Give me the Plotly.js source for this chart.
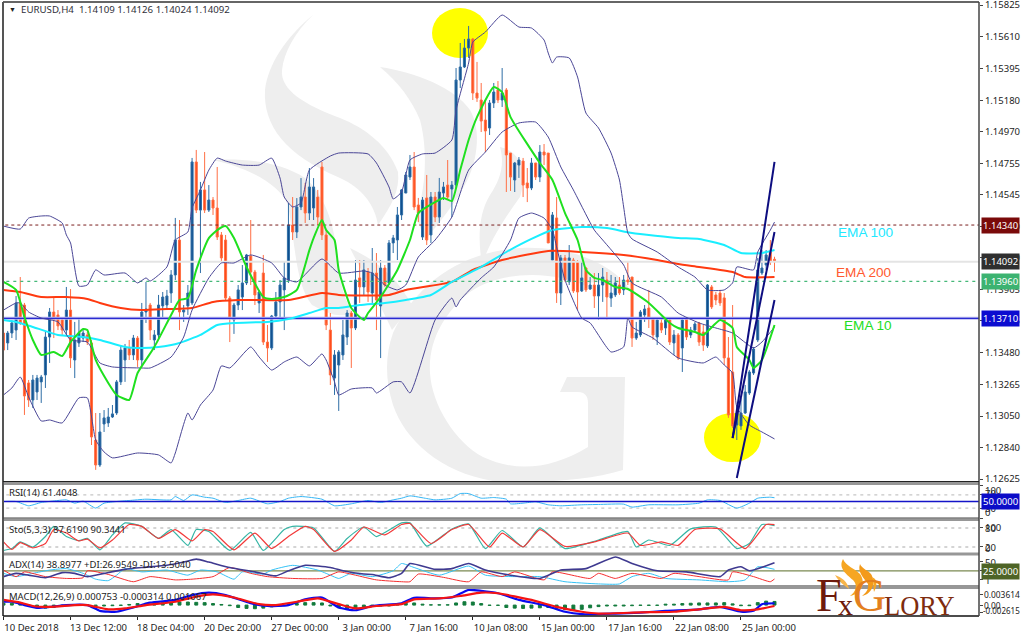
<!DOCTYPE html>
<html><head><meta charset="utf-8">
<script src="https://cdn.plot.ly/plotly-3.0.1.min.js"></script>
<style>html,body{margin:0;padding:0;background:#fff}#c{width:1024px;height:636px}</style>
</head><body><div id="c"></div>
<script>
// All prices in points (1e-5). Candles: bar index = array position.
const openPts=[113611,113544,113611,113631,113814,113800,113274,113159,113213,113281,113328,113584,113753,113733,113699,113631,113766,113429,113544,113577,113598,113544,112889,112720,112997,113004,113044,113071,113281,113429,113510,113463,113577,113429,113753,113800,113564,113598,113794,113800,113881,114003,114239,113753,113794,113814,114766,114441,114577,114441,114509,114455,114273,114239,113847,113699,113800,113854,113949,114131,114023,113814,114016,113550,113510,113726,113821,113902,113969,114340,114293,114462,114529,114421,114455,114529,114732,114273,113631,113307,113395,113463,113584,113746,113645,113983,113922,114023,113881,114016,113794,114050,113949,114219,114239,114408,114556,114664,114732,114475,114259,114523,114273,114529,114394,114556,114610,114583,114610,115319,115407,115535,115596,115231,115184,115049,114995,115164,115252,115184,115252,114826,114644,114745,114772,114624,114590,114759,114664,114833,114826,114104,114388,113881,114118,113956,114104,114091,113895,114050,113908,113935,113861,113935,113969,113847,113868,113935,113902,113969,113989,113577,113598,113733,113780,113712,113584,113679,113645,113699,113544,113598,113510,113706,113598,113631,113679,113618,113524,113922,113868,113881,113848,113443,113348,112990,112984,113071,113206,113341,113564,114016,114070,114158,114109];
const highPts=[113611,113625,113699,113861,113989,113814,113294,113328,113328,113328,113618,113780,113854,113766,113712,113922,113908,113686,113712,113631,113618,113564,113071,113071,113091,113105,113125,113294,113530,113537,113564,113598,113591,113814,113956,113814,113631,113868,113888,113902,114036,114388,114374,113800,113935,114793,114847,114631,114833,114610,114529,114732,114293,114273,113861,113814,113935,114070,114145,114374,114037,113902,114138,113665,113733,113888,113969,114091,114489,114529,114522,114657,114624,114725,114657,114577,114766,114307,113746,113496,113496,113699,113766,113760,114104,114104,114104,114050,114185,114151,114104,114070,114239,114273,114462,114583,114698,114813,114833,114523,114529,114678,114563,114563,114658,114631,114779,114637,115400,115569,115596,115684,115603,115441,115299,115184,115184,115299,115312,115400,115265,114826,114766,114799,114793,114725,114793,114759,114880,114887,114826,114428,114529,114138,114138,114205,114118,114104,114091,114057,113989,114016,114016,114050,114023,114003,113989,113989,114003,114091,113989,113686,113766,113800,113902,113719,113712,113719,113719,113712,113631,113611,113719,113712,113652,113686,113686,113665,113942,113935,113888,113902,113881,113584,113800,113125,113172,113260,113361,113517,114118,114171,114171,114239,114126];
const lowPts=[113496,113496,113577,113564,113665,113058,113112,113105,113159,113139,113240,113409,113577,113631,113598,113598,113375,113307,113517,113550,113530,112855,112687,112707,112943,112977,113038,113058,113260,113281,113429,113429,113382,113395,113679,113564,113496,113564,113712,113766,113814,113969,113631,113686,113733,113800,114421,114016,114421,114428,114408,114239,114091,113834,113550,113605,113766,113766,113935,113935,113800,113746,113530,113416,113496,113712,113712,113631,113949,114239,114252,114441,114354,114374,114374,114340,114239,113631,113260,113193,113085,113429,113530,113375,113631,113814,113868,113821,113814,113631,113442,113922,113935,114151,114104,114374,114556,114644,114441,114360,114239,114205,114219,114360,114354,114509,114509,114394,114590,115265,115400,115468,115184,115171,114968,114833,114948,115130,115164,115137,114563,114570,114563,114658,114529,114495,114576,114644,114630,114745,114219,114104,113814,113800,113956,113935,113881,113767,113888,113888,113902,113780,113699,113821,113699,113787,113854,113868,113868,113935,113517,113564,113584,113686,113645,113564,113530,113611,113598,113530,113463,113429,113348,113564,113577,113618,113524,113490,113510,113773,113800,113794,113395,113038,112970,112889,112957,113065,113193,113328,113550,114003,114037,114070,114024];
const closePts=[113496,113611,113679,113814,113679,113186,113159,113294,113307,113314,113584,113753,113699,113659,113631,113766,113443,113564,113611,113611,113550,112909,112720,112943,113038,113044,113065,113281,113496,113510,113463,113577,113429,113753,113773,113631,113598,113800,113854,113861,114003,114239,113753,113766,113881,114766,114441,114577,114441,114509,114455,114259,114118,113847,113712,113800,113902,113949,114138,114023,113868,113888,113550,113510,113726,113821,113935,113983,114340,114293,114462,114529,114421,114597,114597,114394,114273,113665,113328,113463,113483,113598,113746,113645,113969,113922,114037,113888,114016,113834,114050,113935,114219,114253,114408,114577,114678,114732,114462,114421,114509,114239,114529,114394,114563,114597,114529,114610,115319,115407,115535,115596,115231,115197,115042,114975,115164,115238,115184,115231,114813,114664,114759,114779,114610,114590,114759,114664,114833,114813,114219,114408,113881,114118,113969,114118,113895,113888,113983,113902,113935,113861,113935,113989,113854,113881,113949,113881,113969,113956,113577,113611,113753,113773,113712,113598,113699,113631,113699,113550,113598,113443,113699,113584,113631,113672,113550,113530,113935,113787,113834,113814,113443,113058,112984,113071,113071,113213,113348,113503,114037,114050,114138,114091,114092];

const bbUpperBars=[0,4,6,9,11,14,15,16,18,20,22,24,29,32,34,35,39,41,44,45,47,49,51,53,57,61,64,66,67,69,71,73,78,80,87,89,92,93,95,97,100,103,107,108,111,112,115,119,123,126,129,130,131,132,135,137,139,142,145,147,148,149,150,156,161,165,168,172,174,175,179,180,183,184];
const bbUpperPts=[114333,114313,114387,114401,114401,114354,114273,114219,113928,113935,114037,114003,114016,113949,113983,113962,114057,114239,114293,114455,114577,114711,114792,114772,114745,114745,114792,114657,114529,114462,114489,114711,114806,114826,114820,114759,114597,114516,114563,114779,114820,114826,114914,115116,115434,115575,115643,115758,115677,115670,115589,115501,115434,115474,115468,115339,115096,114995,114826,114644,114462,114286,114246,114158,114057,113989,113902,113902,113949,114057,114037,114158,114306,114360];
const bbMidBars=[0,3,4,6,9,13,16,20,23,26,33,35,40,43,45,49,52,55,59,64,67,70,76,80,86,88,91,94,96,99,103,107,111,115,119,123,127,130,133,136,141,143,148,150,157,161,166,170,174,179,181,184];
const bbMidPts=[113766,113814,113814,113753,113712,113686,113564,113550,113409,113382,113375,113375,113449,113584,113766,113983,114084,114084,114138,114084,113983,113956,114111,114016,114030,114016,113935,113902,113935,114124,114239,114394,114711,114833,114968,115029,115035,114934,114732,114577,114306,114239,114070,113949,113854,113746,113679,113645,113611,113510,113550,113652];
const bbLowerBars=[0,2,4,6,9,11,14,18,20,22,24,26,32,37,40,41,44,45,47,50,52,54,59,61,64,67,70,73,76,77,79,80,83,88,89,93,95,97,103,107,108,109,114,117,121,123,126,129,131,132,134,138,140,145,148,149,150,155,161,167,170,172,174,175,178,181,184];
const bbLowerPts=[113193,113240,113314,113179,113017,113024,113004,113173,113173,112889,112808,112768,112801,112788,112734,112801,113071,113024,113125,113226,113389,113375,113517,113449,113361,113416,113449,113389,113470,113429,113281,113193,113233,113240,113206,113281,113281,113206,113699,113847,113787,113834,113983,114057,114239,114387,114421,114387,114306,114192,113969,113712,113679,113483,113517,113712,113652,113577,113443,113409,113449,113395,113341,113112,112990,112943,112896];
const ema10Bars=[0,3,5,7,9,12,14,16,19,20,22,25,27,30,32,36,40,42,44,46,49,51,53,55,58,62,64,67,70,73,74,76,77,79,80,83,86,87,90,94,97,99,103,105,107,109,111,113,117,119,121,128,131,134,137,139,141,143,146,149,154,159,161,165,167,171,174,175,178,179,181,184];
const ema10Pts=[113956,113902,113719,113564,113463,113483,113456,113550,113638,113631,113429,113274,113193,113159,113341,113517,113733,113834,113847,114037,114252,114306,114333,114252,114057,113854,113841,113854,113902,114171,114252,114374,114306,114239,114037,113780,113699,113746,113854,114037,114239,114421,114495,114523,114502,114711,114914,115069,115272,115238,115069,114759,114644,114421,114239,114037,113983,113969,113922,113908,113814,113679,113645,113618,113598,113699,113645,113517,113429,113375,113429,113665];
const ema100Bars=[0,3,7,13,19,23,29,33,37,42,47,51,55,63,68,73,77,80,85,91,96,102,107,114,120,126,131,138,144,150,161,166,172,176,181,184];
const ema100Pts=[113699,113686,113652,113598,113584,113564,113517,113510,113517,113544,113598,113665,113679,113686,113706,113746,113780,113780,113800,113814,113834,113868,113956,114057,114158,114246,114306,114327,114320,114286,114253,114246,114205,114151,114151,114171];
const ema200Bars=[0,4,9,15,20,23,28,33,39,45,50,56,68,76,80,92,96,107,112,119,130,138,148,156,161,166,174,177,184];
const ema200Pts=[113902,113888,113854,113854,113841,113814,113780,113766,113773,113780,113821,113834,113834,113881,113868,113868,113902,113956,114037,114104,114165,114158,114138,114104,114077,114057,114023,113989,113989];

const trendBars=[[174,184],[174,184],[175,184]];
const trendPts=[[112902,114766],[112902,114293],[112632,113834]];

const levelMaroon=1.1434, levelLast=1.14092, levelGreen=1.1396, levelBlue=1.1371;

const rsiBars=[0,3,6,9,13,15,17,19,22,24,27,30,34,40,41,43,45,48,50,53,56,59,63,66,68,71,76,79,83,87,90,93,95,97,101,103,107,109,111,114,117,120,121,124,127,130,133,138,142,148,150,154,161,166,168,171,175,178,180,183,184];
const rsiVals=[50,50,37,47,53,55,45,51,30,45,50,53,57,55,65,53,70,63,60,47,53,60,43,50,60,65,57,37,43,53,47,55,60,67,59,55,60,74,74,60,62,57,43,45,49,40,37,40,41,42,33,40,40,45,55,53,30,45,60,63,61.4];
const stoSigBars=[0,2,4,7,10,12,15,18,20,23,26,30,33,37,41,45,48,50,55,60,64,68,72,74,79,83,86,91,95,97,102,107,111,116,119,124,128,134,141,149,152,157,161,165,171,177,182,184];
const stoSigVals=[36,12,34,17,31,75,64,39,45,17,42,91,85,47,75,39,75,69,11,64,15,53,85,75,6,42,83,58,91,94,31,75,91,20,64,20,75,22,36,64,25,36,25,75,77,15,91,90.3];
const stoMainBars=[0,2,4,7,10,12,15,18,20,23,26,29,33,37,40,44,46,49,54,59,62,67,69,74,79,82,86,89,95,97,101,107,111,115,119,124,128,134,142,149,151,154,159,164,170,175,178,181,184];
const stoMainVals=[9,15,36,20,53,85,53,40,47,11,58,96,85,47,75,25,75,69,9,66,9,75,85,80,6,47,83,53,96,96,23,77,93,15,72,20,80,15,42,69,20,42,25,77,83,15,31,91,87.6];
const adxBars=[0,3,6,10,14,17,20,24,29,33,39,43,46,49,54,60,65,68,72,78,81,86,88,92,95,97,103,107,111,115,121,128,133,139,146,150,156,163,171,173,176,178,184];
const adxVals=[9,18,13,6,20,18,9,18,29,34,40,49,57,49,34,22,11,25,40,34,25,16,15,6,18,45,29,31,45,27,13,4,27,31,63,45,25,22,9,27,36,25,47];
const diPlusBars=[0,3,7,11,15,19,22,25,27,29,33,39,44,47,51,55,57,62,64,69,75,78,80,83,88,93,95,98,104,111,115,122,128,134,142,147,150,154,158,166,173,177,180,184];
const diPlusVals=[18,9,18,27,31,18,2,-2,13,31,22,27,13,27,22,2,22,16,27,40,27,13,4,18,9,25,45,34,13,38,13,9,9,-5,-11,-11,9,18,4,0,-5,0,36,29];
const diMinusBars=[0,3,5,10,15,19,20,25,31,35,41,45,50,54,59,63,69,76,80,84,89,95,97,99,105,111,114,119,122,129,131,140,142,146,150,157,160,166,173,174,179,183,184];
const diMinusVals=[27,9,22,9,4,6,25,15,-5,9,0,2,9,34,18,9,4,4,22,13,0,-5,-5,16,7,-5,22,9,22,0,22,4,18,4,18,4,18,9,0,22,9,-5,2.5];
const adxLevel=25;
const macdBars=[0,2,5,8,11,15,20,23,27,31,35,41,45,49,53,59,63,68,72,76,80,84,88,95,98,103,107,111,114,118,123,129,134,138,146,152,158,166,171,176,179,181,184];
const macdVals=[.0011,.0011,0,-.0009,-.0006,0,0,-.0019,-.0022,-.0008,.0008,.0017,.0033,.0041,.0033,.0006,-.0003,0,.0019,.0025,-.0008,-.0017,-.0003,.0006,.0024,.0022,.0025,.005,.0047,.0039,.0017,0,-.0022,-.003,-.0028,-.0025,-.0019,-.0014,-.0006,-.0022,-.0019,.0003,.0006];
const signalBars=[0,4,7,11,17,20,25,29,34,41,46,50,55,61,65,70,75,80,84,89,95,98,104,109,114,118,126,132,138,142,152,160,166,172,176,180,184];
const signalVals=[.0017,.0008,-.0003,-.0006,0,0,-.0014,-.0011,0,.0011,.0028,.0035,.0025,.0003,0,.0011,.0022,.0003,-.0011,-.0003,.0003,.0019,.0022,.003,.0041,.0039,.0017,-.0006,-.0022,-.0028,-.0024,-.0022,-.0014,-.0006,-.0017,-.0014,-.0003];
// OsMA, every second bar, in 1e-4
const osmaEvery2=[6,6,4,-3,-9,-10,-8,-2,-1,-1,-1,-2,-3,-2,-1,2,5,6,6,8,9,10,10,9,8,5,2,-2,-8,-11,-12,-10,-6,-3,1,5,8,8,7,-3,-9,-12,-11,-8,-4,-3,-3,2,6,7,3,1,1,1,7,11,10,5,-1,-1,-8,-10,-11,-10,-9,-8,-11,-15,-16,-14,-9,-5,-3,-3,-3,-2,-1,-1,-1,3,3,5,6,7,7,7,8,4,-2,-2,8,13,12];

const priceTicks=[1.15825,1.1561,1.15395,1.1518,1.1497,1.14755,1.14545,1.1433,1.1412,1.13905,1.13695,1.1348,1.13265,1.1305,1.1284,1.12625];
const priceTickText=['1.15825','1.15610','1.15395','1.15180','1.14970','1.14755','1.14545','1.14330','1.14120','1.13905','1.13695','1.13480','1.13265','1.13050','1.12840','1.12625'];
const timeBars=[0,16,32,48,64,80,96,112,128,144,160,176];
const timeLabels=['10 Dec 2018','13 Dec 12:00','18 Dec 04:00','20 Dec 20:00','27 Dec 00:00','3 Jan 00:00','7 Jan 16:00','10 Jan 08:00','15 Jan 00:00','17 Jan 16:00','22 Jan 08:00','25 Jan 00:00'];

const W=1024,H=636;
const fx=x=>x/W, fy=y=>1-y/H;
const pr=a=>a.map(p=>p/1e5);
const FONT='"Noto Sans",sans-serif';
const bars=openPts.map((_,i)=>i);
const line=(x,y,color,width,ya,dash)=>({type:'scatter',mode:'lines',x,y,yaxis:ya,xaxis:'x',hoverinfo:'skip',showlegend:false,line:{color,width,dash:dash||'solid',shape:x.length>2?'spline':'linear',smoothing:0.5}});

const XL=[-1,233];
const traces=[
 line(XL,[levelLast,levelLast],'#e4e4e4',2,'y'),
 line(XL,[levelMaroon,levelMaroon],'#7a1f1f',1,'y','3px,3px'),
 line(XL,[levelGreen,levelGreen],'#45b878',1.2,'y','3px,4px'),
 line(XL,[levelBlue,levelBlue],'#b9b9f0',3,'y'),
 line(XL,[levelBlue,levelBlue],'#2a2ad0',1.2,'y'),
 {type:'candlestick',x:bars,open:pr(openPts),high:pr(highPts),low:pr(lowPts),close:pr(closePts),xaxis:'x',yaxis:'y',hoverinfo:'skip',showlegend:false,whiskerwidth:0,
  increasing:{fillcolor:'#0f4f8e',line:{color:'#2f6ea6',width:1}},decreasing:{fillcolor:'#ff4a17',line:{color:'#ff6f45',width:1}}},
 line(ema200Bars,pr(ema200Pts),'#ff3a10',2,'y'),
 line(ema100Bars,pr(ema100Pts),'#19eeff',2,'y'),
 line(bbUpperBars,pr(bbUpperPts),'#4a4696',1,'y'),
 line(bbMidBars,pr(bbMidPts),'#4a4696',1,'y'),
 line(bbLowerBars,pr(bbLowerPts),'#4a4696',1,'y'),
 line(ema10Bars,pr(ema10Pts),'#1fe01f',2,'y'),
 ...trendBars.map((b,i)=>line(b,pr(trendPts[i]),'#0d0d80',2,'y')),
 // RSI
 line(XL,[70,70],'#c6c6c6',1.4,'y2','3px,4px'),
 line(XL,[30,30],'#c6c6c6',1.4,'y2','3px,4px'),
 line(rsiBars,rsiVals,'#35b6f5',1,'y2'),
 line(XL,[50,50],'#1414c8',1.4,'y2'),
 // Sto
 line(XL,[80,80],'#c6c6c6',1.4,'y3','3px,4px'),
 line(XL,[20,20],'#c6c6c6',1.4,'y3','3px,4px'),
 line(stoMainBars,stoMainVals,'#35b5a5',1.2,'y3'),
 line(stoSigBars,stoSigVals,'#f23a3a',1.2,'y3'),
 // ADX
 line(XL,[adxLevel,adxLevel],'#7b8a52',1.2,'y4'),
 line(diPlusBars,diPlusVals,'#35c2f5',1,'y4'),
 line(diMinusBars,diMinusVals,'#f52f2f',1,'y4'),
 line(adxBars,adxVals,'#3f3a90',1.6,'y4'),
 // MACD
 {type:'bar',x:osmaEvery2.map((_,i)=>i*2),y:osmaEvery2.map(v=>v/1e4),xaxis:'x',yaxis:'y5',hoverinfo:'skip',showlegend:false,width:0.7,marker:{color:'#127a3c',line:{color:'#127a3c',width:1}}},
 line(macdBars,macdVals,'#0a0af0',2.2,'y5'),
 line(signalBars,signalVals,'#f51414',2.2,'y5')
];

// ----- decorative logo paths in page pixels -----
function pathPx(s){return s.replace(/(-?[\d.]+),(-?[\d.]+)/g,(m,a,b)=>fx(+a).toFixed(5)+','+fy(+b).toFixed(5));}
const wm=[
 'M313,15 C285,38 268,65 265,90 C263,125 285,155 340,178 C362,188 375,205 378,225 C392,205 400,190 398,172 C388,145 365,128 340,118 C305,105 280,90 282,70 C284,52 295,32 313,15 Z',
 'M380,67 C415,72 455,88 470,110 C482,130 478,165 462,190 C450,210 435,228 425,240 L416,216 C426,190 428,150 420,120 C412,100 398,82 380,67 Z',
 'M213,160 C245,158 280,162 305,178 C325,195 335,225 338,262 C340,285 345,300 352,312 C340,320 325,312 312,305 C296,285 296,250 288,205 C280,185 250,168 213,160 Z',
 'M500,147 C515,150 530,165 520,197 C505,218 490,240 482,265 C478,240 478,215 490,195 C500,180 505,165 500,147 Z',
 'M350,248 C380,262 398,280 412,305 L392,330 C378,300 362,272 350,248 Z',
 'M393,333 C415,285 460,252 520,248 C570,246 612,262 632,292 C610,282 580,278 590,288 C560,272 505,268 470,292 C445,312 428,340 430,373 C432,405 455,442 483,457 C515,472 550,470 588,447 L588,403 C588,396 585,392 578,392 L560,392 L567,377 L625,377 L623,470 C590,480 550,483 493,481 C440,472 405,440 393,405 C385,380 385,355 393,333 Z'
];
const flames=[
 ['M843,559 C838,568 846,574 853,580 C858,585 856,592 850,596 C862,594 866,582 860,574 C854,568 846,566 843,559 Z','#f6a623'],
 ['M860,564 C857,572 864,578 868,584 C869,589 866,593 862,596 C873,594 876,582 871,574 C868,570 862,569 860,564 Z','#f39a1a'],
 ['M835,575 C841,577 848,582 849,589 C845,586 839,582 835,575 Z','#f8b54a'],
 ['M872,577 C877,579 878,584 874,592 C873,587 874,581 872,577 Z','#f6a623']
];

const shapes=[
 ...wm.map(p=>({type:'path',xref:'paper',yref:'paper',layer:'below',path:pathPx(p),fillcolor:'#eeeeee',line:{width:0}})),
 {type:'circle',xref:'paper',yref:'paper',layer:'below',x0:fx(432),x1:fx(488),y0:fy(58),y1:fy(8),fillcolor:'#ffff00',line:{width:0}},
 {type:'circle',xref:'paper',yref:'paper',layer:'below',x0:fx(704),x1:fx(761),y0:fy(462),y1:fy(413),fillcolor:'#ffff00',line:{width:0}},
 ...[[482,485],[518.5,521],[552.5,555.5],[585,589]].map(r=>({type:'rect',xref:'paper',yref:'paper',x0:fx(3),x1:fx(979),y0:fy(r[1]),y1:fy(r[0]),fillcolor:'#979797',line:{width:0},layer:'above'})),
 ...[[3,2,979,2,'#333',1.5],[3,2,3,616,'#555',2],[3,616,979,616,'#111',1.5],[979,2,979,616,'#444',1.5],[3,481.5,979,481.5,'#222',1],[3,518,979,518,'#444',1]].map(l=>({type:'line',xref:'paper',yref:'paper',x0:fx(l[0]),y0:fy(l[1]),x1:fx(l[2]),y1:fy(l[3]),line:{color:l[4],width:l[5]},layer:'above'})),
 ...flames.map(f=>({type:'path',xref:'paper',yref:'paper',layer:'above',path:pathPx(f[0]),fillcolor:f[1],line:{width:0}}))
];

const txt=(x,y,t,o={})=>Object.assign({xref:'paper',yref:'paper',x:fx(x),y:fy(y),text:t,showarrow:false,xanchor:'left',yanchor:'middle',font:{family:FONT,size:9.5,color:'#222'}},o);
const box=(price,t,bg)=>({xref:'paper',yref:'y',x:fx(981),y:price,text:t,showarrow:false,xanchor:'left',yanchor:'middle',bgcolor:bg,borderpad:1,font:{family:FONT,size:9.5,color:'#fff'}});
const logo=(x,t,size,color)=>({xref:'paper',yref:'paper',x:fx(x),y:fy(623),text:t,showarrow:false,xanchor:'left',yanchor:'bottom',font:{family:'"Liberation Serif",serif',size,color}});
const small={font:{family:FONT,size:8.4,color:'#222'}};

const annotations=[
 txt(7,10,'▼',{font:{family:FONT,size:7,color:'#222'}}),
 txt(19,10,'EURUSD,H4  1.14109 1.14126 1.14024 1.14092',{font:{family:FONT,size:9.7,color:'#30303a'}}),
 txt(836,233,'EMA 100',{font:{family:'"Liberation Sans",sans-serif',size:13.6,color:'#22e8ff'}}),
 txt(834,272,'EMA 200',{font:{family:'"Liberation Sans",sans-serif',size:13.6,color:'#ff5a30'}}),
 txt(842,325,'EMA 10',{font:{family:'"Liberation Sans",sans-serif',size:13.6,color:'#22dd22'}}),
 box(1.1434,'1.14340','#7a0a0a'),
 box(1.14092,'1.14092','#2f2f2f'),
 box(1.1396,'1.13960','#3cb371'),
 box(1.1371,'1.13710','#0c0cd0'),
 txt(7,492,'RSI(14) 61.4048'),
 txt(7,529,'Sto(5,3,3) 87.6190 90.3441'),
 txt(7,564,'ADX(14) 38.8977 +DI:26.9549 -DI:13.5040'),
 txt(7,596,'MACD(12,26,9) 0.000753 -0.000314 0.001067'),
 txt(983,490,'100'),txt(983,493,'70'),
 txt(983,508,'30'),txt(983,512,'0'),
 txt(983,527,'100'),txt(983,528,'80'),
 txt(983,547,'20'),txt(983,548,'0'),
 txt(983,562,'50'),txt(983,580,'1'),
 txt(982,594,'0.003614',small),txt(982,605,'0.00',small),txt(981,610,'-0.002615',{font:{family:FONT,size:8,color:'#222'}}),
 Object.assign(txt(981,501,'50.0000',{font:{family:FONT,size:9.5,color:'#fff'}}),{bgcolor:'#0c0cc8',borderpad:1}),
 Object.assign(txt(981,571,'25.0000',{font:{family:FONT,size:9.5,color:'#fff'}}),{bgcolor:'#4e6426',borderpad:1}),
 logo(814,'F',46,'#6e1a0c'),
 logo(836,'x',30,'#6e1a0c'),
 logo(851,'G',46,'#e3801f'),
 logo(882,'LORY',26.5,'#7e2c0e')
];

const yBase={side:'right',anchor:'x',showgrid:false,zeroline:false,showline:false,ticks:'outside',ticklen:3,tickcolor:'#444',tickwidth:1,tickfont:{family:FONT,size:9.5,color:'#222'}};
const yMini=(dom,range,tv)=>Object.assign({},yBase,{domain:dom,range,tickmode:'array',tickvals:tv,showticklabels:false});

const layout={
 width:W,height:H,margin:{l:0,r:0,t:0,b:0,autoexpand:false},paper_bgcolor:'#fff',plot_bgcolor:'rgba(0,0,0,0)',showlegend:false,boxgap:0.3,barmode:'overlay',
 xaxis:{domain:[fx(3),fx(979)],range:[-0.12,232.8],anchor:'y5',showgrid:false,zeroline:false,showline:false,rangeslider:{visible:false},
  tickmode:'array',tickvals:timeBars,ticktext:timeLabels,ticks:'outside',ticklen:3,tickcolor:'#222',ticklabelshift:28,ticklabelstandoff:0,tickfont:{family:FONT,size:9.5,color:'#222'}},
 yaxis:Object.assign({},yBase,{domain:[fy(481),fy(3)],range:[1.12612,1.15839],tickmode:'array',tickvals:priceTicks,ticktext:priceTickText,ticklabeloverflow:'allow'}),
 yaxis2:yMini([fy(518),fy(485)],[0,100],[100,70,30,0]),
 yaxis3:yMini([fy(552.5),fy(521)],[2.6,102],[80,20]),
 yaxis4:yMini([fy(585),fy(555.5)],[-14,67],[50,25,0]),
 yaxis5:yMini([fy(616),fy(589)],[-.0036,.0053],[.0036,0,-.0026]),
 shapes,annotations
};
Plotly.newPlot('c',traces,layout,{staticPlot:true,displayModeBar:false});
</script></body></html>
